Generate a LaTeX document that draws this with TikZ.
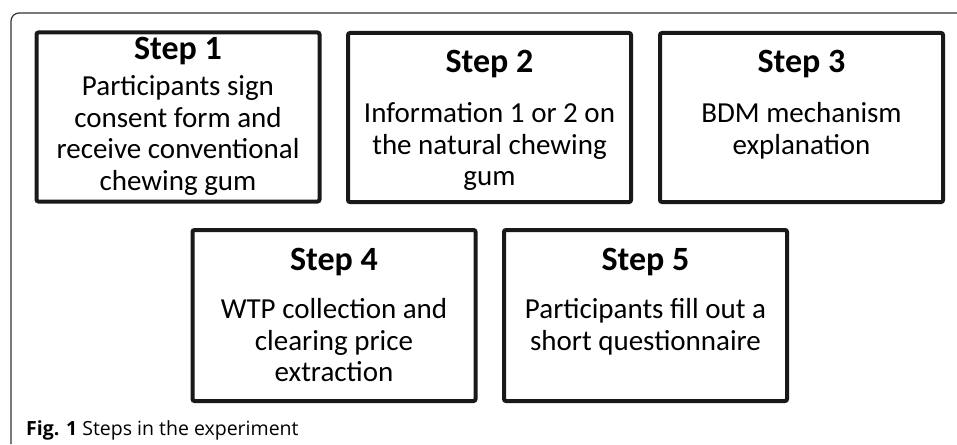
\documentclass[tikz,border=0pt]{standalone}
\usepackage{fontspec}
\setmainfont{Carlito}
\newfontfamily\capfont{Open Sans}
\usetikzlibrary{positioning}

\begin{document}
\begin{tikzpicture}[x=1pt,y=-1pt]
\tikzstyle{stepbox}=[draw=black!90, line width=4pt, rounded corners=2pt,
minimum width=283pt, minimum height=169pt, inner sep=0pt]
\tikzstyle{steptitle}=[font=\fontsize{34}{40}\selectfont\bfseries,
inner sep=0pt, anchor=base]
\tikzstyle{stepbody}=[font=\fontsize{29}{31.5}\selectfont, align=center,
inner sep=0pt]
\useasboundingbox (0,0) rectangle (957,444);

% outer frame
\draw[black!80, line width=1.2pt, rounded corners=8pt] (11,444) -- (11,13) -- (957,13);

\node[stepbox] (s1) at (178,117) {};
\node[stepbox] (s2) at (489.5,117.5) {};
\node[stepbox] (s3) at (801.5,117.5) {};
\node[stepbox, minimum height=171pt] (s4) at (334,315.5) {};
\node[stepbox, minimum height=171pt] (s5) at (645.5,315.5) {};

\node[steptitle, below=29pt of s1.north, anchor=base] (t1) {Step 1};
\node[steptitle, below=41.5pt of s2.north, anchor=base] (t2) {Step 2};
\node[steptitle, below=41.5pt of s3.north, anchor=base] (t3) {Step 3};
\node[steptitle, below=42pt of s4.north, anchor=base] (t4) {Step 4};
\node[steptitle, below=42pt of s5.north, anchor=base] (t5) {Step 5};

\node[stepbody, below=43pt of s1.north]
  (b1) {\strut Participants sign\\consent form and\\receive conventional\\chewing gum};
\node[stepbody, below=69.3pt of s2.north]
  (b2) {\strut Information 1 or 2 on\\the natural chewing\\gum};
\node[stepbody, below=69.3pt of s3.north]
  (b3) {\strut BDM mechanism\\explanation};
\node[stepbody, below=68.3pt of s4.north]
  (b4) {\strut WTP collection and\\clearing price\\extraction};
\node[stepbody, below=68.3pt of s5.north]
  (b5) {\strut Participants fill out a\\short questionnaire};

% caption
\node[anchor=base west, inner sep=0pt, font=\capfont\fontsize{19.5}{23}\selectfont]
  (cap) at (26,435) {\textbf{Fig. 1} Steps in the experiment};
\end{tikzpicture}
\end{document}
